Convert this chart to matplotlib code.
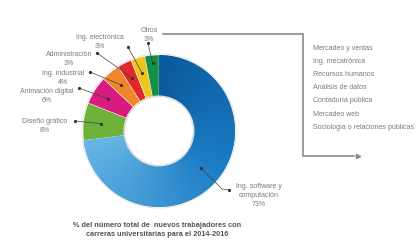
import numpy as np
import matplotlib
matplotlib.use("Agg")
import matplotlib.pyplot as plt
from matplotlib.patches import Circle
from matplotlib.colors import to_rgb

# datos
carreras = ["Ing. software y\ncomputación", "Diseño gráfico", "Animación digital",
            "Ing. industrial", "Administración", "Ing. electrónica", "Otros"]
porcentajes = [73, 8, 6, 4, 3, 3, 3]
colores = ["#1a73b9", "#6fb23a", "#d81b7f", "#f0862a", "#e3262a", "#f0c31f", "#138f46"]
otros = ["Mercadeo y ventas", "Ing. mecatrónica", "Recursos humanos", "Análisis de datos",
         "Contaduría pública", "Mercadeo web", "Sociología o relaciones públicas"]
titulo = "% del número total de  nuevos trabajadores con\ncarreras universitarias para el 2014-2016"

W, H = 420, 242
cx, cy = 159, H - 131
R, r_in = 76, 35
gris = "#7a7a7a"

plt.rcParams['font.family'] = ['Liberation Sans', 'DejaVu Sans']

fig = plt.figure(figsize=(W / 100, H / 100), dpi=100)
ax = fig.add_axes([0, 0, 1, 1])

# sombra exterior
ax.add_patch(Circle((cx, cy), R + 1.5, facecolor="#e4e4e4", edgecolor="none", zorder=0))
ax.add_patch(Circle((cx, cy), R + 0.6, facecolor="white", edgecolor="none", zorder=0.5))

wedges, _ = ax.pie(porcentajes, colors=colores, startangle=90, counterclock=False,
                   center=(cx, cy), radius=R,
                   wedgeprops=dict(width=R - r_in, edgecolor="white", linewidth=0.3))
for w in wedges:
    w.set_zorder(1)

# degradado del segmento azul (segun el angulo)
n = 300
xs = np.linspace(cx - R, cx + R, n)
ys = np.linspace(cy - R, cy + R, n)
X, Y = np.meshgrid(xs, ys)
ang = np.degrees(np.arctan2(Y - cy, X - cx))
t = np.clip((90 - ang) % 360 / 262.8, 0, 1)
oscuro = np.array(to_rgb("#0a5a9c"))
medio = np.array(to_rgb("#1b7bc4"))
claro = np.array(to_rgb("#66b6e5"))
t2 = t[..., None]
img = np.where(t2 < 0.45, oscuro + (medio - oscuro) * (t2 / 0.45),
               medio + (claro - medio) * ((t2 - 0.45) / 0.55))
im = ax.imshow(img, extent=(cx - R, cx + R, cy - R, cy + R), origin="lower", zorder=1.5)
im.set_clip_path(wedges[0])

# agujero central con sombra
ax.add_patch(Circle((cx, cy), r_in + 0.5, facecolor="#dcdcdc", edgecolor="none", zorder=2))
ax.add_patch(Circle((cx, cy), r_in - 1.2, facecolor="white", edgecolor="none", zorder=2.1))

# etiquetas (posicion del texto, inicio de la linea, radio del punto)
etiquetas = [
    ((259, 183), [(229, 190), (222, 189)], 56),
    ((45, 118), [(75, 121)], 58),
    ((47, 88), [(79, 88)], 60),
    ((63, 70), [(90, 72)], 60),
    ((69, 51), [(97, 53)], 60),
    ((100, 34), [(128, 47)], 60),
    ((149, 27), [(148, 43)], 68),
]
inicio = 90
for i, (w, p) in enumerate(zip(wedges, porcentajes)):
    medio_ang = np.radians(inicio - p * 3.6 / 2)
    inicio -= p * 3.6
    (tx, ty), puntos, rr = etiquetas[i]
    ax.text(tx, H - ty, f"{carreras[i]}\n{p}%", ha="center", va="top", fontsize=5,
            color=gris, linespacing=1.35, zorder=5)
    px = cx + rr * np.cos(medio_ang)
    py = cy + rr * np.sin(medio_ang)
    lx = [q[0] for q in puntos] + [px]
    ly = [H - q[1] for q in puntos] + [py]
    ax.plot(lx, ly, color="#444444", lw=0.5, zorder=4)
    ax.plot([lx[0], px], [ly[0], py], "o", color="#333333", ms=1.3, zorder=4)

# linea de "Otros" hacia la lista
ax.plot([163, 303, 303, 354], [H - 34, H - 34, H - 156, H - 156], color="#8a8a8a", lw=1.2,
        solid_joinstyle="miter", zorder=3)
ax.plot([358], [H - 156], marker=">", color="#8a8a8a", ms=3, zorder=3)

for k, nombre in enumerate(otros):
    ax.text(313, H - (48 + k * 13.2), nombre, ha="left", va="center", fontsize=5,
            color=gris, zorder=5)

ax.text(157, H - 222, titulo, ha="center", va="top", fontsize=5.3, fontweight="bold",
        color="#555555", linespacing=1.5)

ax.set_xlim(0, W)
ax.set_ylim(0, H)
ax.set_aspect("equal")
ax.axis("off")
fig.savefig("out.png", dpi=100, facecolor="white")
